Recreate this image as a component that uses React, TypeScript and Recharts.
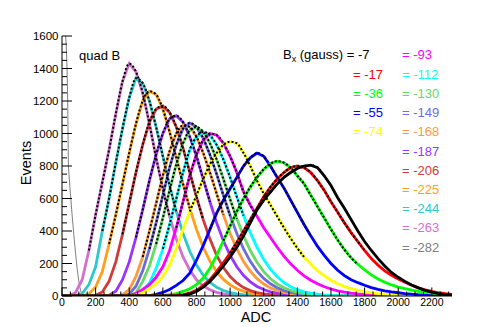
import { LineChart, Line, XAxis, YAxis } from 'recharts';

const FONT = '"Liberation Sans", Arial, Helvetica, sans-serif';

// ADC bin centres shared by all histograms
const bins = [
  0, 40, 80, 120, 160, 200, 240, 280, 320, 360, 400, 440, 480, 520, 560, 600, 640, 680, 720, 760,
  800, 840, 880, 920, 960, 1000, 1040, 1080, 1120, 1160, 1200, 1240, 1280, 1320, 1360, 1400, 1440,
  1480, 1520, 1560, 1600, 1640, 1680, 1720, 1760, 1800, 1840, 1880, 1920, 1960, 2000, 2040, 2080,
  2120, 2160, 2200, 2240, 2280, 2320,
];

// counts per bin (missing trailing bins are empty)
const bx7 = [
  0, 0, 0, 0, 0, 0, 0, 0, 0, 0,
  0, 0, 0, 0, 0, 0, 0, 0, 4, 12,
  28, 55, 90, 135, 185, 240, 300, 370, 450, 530,
  590, 640, 690, 730, 760, 785, 800, 805, 790, 740,
  680, 605, 540, 470, 400, 335, 280, 230, 185, 145,
  115, 90, 68, 50, 35, 24, 15, 9, 5,
];
const bx17 = [
  0, 0, 0, 0, 0, 0, 0, 0, 0, 0,
  0, 0, 0, 0, 0, 0, 0, 3, 8, 18,
  35, 65, 100, 150, 205, 265, 330, 400, 470, 540,
  610, 670, 720, 760, 790, 800, 790, 760, 710, 650,
  580, 515, 450, 390, 335, 280, 230, 190, 155, 128,
  105, 85, 66, 50, 38, 28, 20, 14, 10,
];
const bx36 = [
  0, 0, 0, 0, 0, 0, 0, 0, 0, 0,
  0, 0, 0, 0, 0, 3, 8, 15, 28, 45,
  70, 110, 170, 250, 340, 430, 520, 600, 670, 730,
  780, 815, 830, 820, 790, 740, 690, 620, 550, 480,
  410, 345, 285, 235, 195, 160, 130, 105, 85, 68,
  55, 45, 36, 29, 23, 18, 14, 11, 8,
];
const bx55 = [
  0, 0, 0, 0, 0, 0, 0, 0, 0, 0,
  0, 0, 0, 3, 10, 22, 40, 65, 95, 140,
  220, 310, 410, 510, 590, 660, 730, 800, 850, 880,
  860, 800, 730, 665, 590, 515, 440, 370, 305, 250,
  200, 158, 125, 100, 82, 66, 52, 41, 32, 25,
  20, 15, 11, 8, 6, 4, 3, 2, 1,
];
const bx74 = [
  0, 0, 0, 0, 0, 0, 0, 0, 0, 0,
  0, 5, 20, 45, 75, 120, 190, 290, 410, 520,
  620, 720, 810, 880, 930, 950, 940, 880, 800, 710,
  630, 560, 490, 420, 355, 295, 240, 195, 155, 125,
  97, 75, 58, 45, 35, 27, 20, 15, 11, 8,
  6, 4, 3, 2, 1,
];
const bx93 = [
  0, 0, 0, 0, 0, 0, 0, 0, 0, 0,
  5, 15, 40, 70, 115, 180, 280, 420, 580, 740,
  870, 960, 1000, 990, 940, 860, 760, 640, 560, 490,
  420, 360, 300, 245, 198, 158, 124, 97, 75, 57,
  43, 32, 24, 18, 13, 9, 6, 4, 2, 1,
];
const bx112 = [
  0, 0, 0, 0, 0, 0, 0, 0, 0, 0,
  0, 4, 30, 80, 170, 290, 440, 600, 760, 900,
  980, 1010, 990, 930, 840, 730, 610, 495, 390, 300,
  225, 165, 118, 83, 57, 39, 26, 17, 11, 7,
  4, 2, 1,
];
const bx130 = [
  0, 0, 0, 0, 0, 0, 0, 0, 0, 0,
  0, 20, 90, 185, 320, 480, 650, 810, 940, 1020,
  1040, 1010, 940, 840, 720, 595, 475, 370, 280, 207,
  150, 106, 74, 51, 34, 23, 15, 10, 6, 4,
  2, 1,
];
const bx149 = [
  0, 0, 0, 0, 0, 0, 0, 0, 0, 0,
  12, 60, 155, 290, 450, 620, 790, 930, 1030, 1065,
  1040, 970, 870, 750, 620, 495, 385, 290, 213, 153,
  108, 75, 51, 34, 22, 14, 9, 6, 4, 2,
  1,
];
const bx168 = [
  0, 0, 0, 0, 0, 0, 0, 0, 0, 8,
  40, 120, 240, 400, 570, 740, 890, 1000, 1050, 1040,
  980, 880, 760, 630, 500, 385, 290, 212, 152, 107,
  74, 50, 34, 22, 14, 9, 6, 4, 2, 1,
];
const bx187 = [
  0, 0, 0, 0, 0, 0, 0, 5, 30, 100,
  210, 360, 530, 710, 870, 1000, 1090, 1110, 1070, 980,
  860, 720, 580, 450, 340, 250, 180, 126, 87, 59,
  40, 26, 17, 11, 7, 4, 2, 1,
];
const bx206 = [
  0, 0, 0, 0, 0, 4, 25, 90, 210, 380,
  570, 760, 930, 1070, 1150, 1170, 1130, 1040, 910, 760,
  610, 470, 350, 250, 175, 120, 80, 52, 33, 21,
  13, 8, 5, 3, 2, 1,
];
const bx225 = [
  0, 0, 0, 2, 12, 55, 150, 320, 500, 690,
  880, 1060, 1200, 1260, 1240, 1150, 1010, 850, 690, 540,
  410, 300, 215, 150, 102, 68, 45, 29, 18, 11,
  7, 4, 2, 1,
];
const bx244 = [
  0, 0, 3, 15, 70, 180, 400, 600, 820, 1030,
  1220, 1340, 1310, 1200, 1040, 860, 680, 520, 385, 275,
  190, 128, 84, 54, 34, 21, 13, 8, 5, 3,
  2, 1,
];
const bx263 = [
  0, 2, 20, 100, 280, 500, 700, 900, 1120, 1320,
  1430, 1380, 1250, 1060, 850, 660, 490, 350, 240, 160,
  100, 62, 38, 22, 13, 7, 4, 2, 1,
];

// -282 gauss: pedestal only, finer bins
const grayAdc = [0, 15, 25, 30, 34, 38, 50, 60, 70, 80, 90, 100, 107, 115, 130, 150, 2320];
const grayCounts = [1800, 1700, 1550, 1400, 1200, 800, 630, 500, 380, 270, 170, 90, 50, 20, 5, 0, 0];

const fieldLabels = ['-7', '-17', '-36', '-55', '-74', '-93', '-112', '-130', '-149', '-168', '-187', '-206', '-225', '-244', '-263', '-282'];
const seriesCounts = [bx7, bx17, bx36, bx55, bx74, bx93, bx112, bx130, bx149, bx168, bx187, bx206, bx225, bx244, bx263];
const colors = ['#000000', '#ff0000', '#00ff00', '#0000ff', '#ffff00', '#ff00ff', '#00ffff', '#66d966', '#6b6bdb', '#ff9a3c', '#9933ff', '#d03a3a', '#ff9f1a', '#2ec8c8', '#d070d0', '#808080'];

// fit ranges (ADC) for the dotted gaussian fits
const fitFrom = [860, 1000, 940, 880, 740, 680, 600, 560, 520, 480, 440, 360, 280, 240, 160];
const fitTo = [1600, 1800, 1760, 1480, 1440, 1160, 1080, 1040, 1000, 960, 880, 840, 760, 680, 640];

const xLabels = [0, 200, 400, 600, 800, 1000, 1200, 1400, 1600, 1800, 2000, 2200];
const yLabels = [0, 200, 400, 600, 800, 1000, 1200, 1400, 1600];
const xTicks: number[] = [];
for (let v = 0; v <= 2300; v += 50) xTicks.push(v);
const yTicks: number[] = [];
for (let v = 0; v <= 1600; v += 50) yTicks.push(v);

const PLOT = { left: 62, right: 452, top: 36, bottom: 296 };

const keyOf = (k: number) => 'b' + k;

const table = bins.map((adc, i) => {
  const row: Record<string, number> = { adc };
  seriesCounts.forEach((c, k) => {
    row[keyOf(k)] = c[i] ?? 0;
  });
  return row;
});
const grayData = grayAdc.map((adc, i) => ({ adc, g: grayCounts[i] }));

const BottomTick = (props: any) => {
  const { x, payload } = props;
  const major = xLabels.includes(payload.value);
  return (
    <g>
      <line x1={x} x2={x} y1={PLOT.bottom} y2={PLOT.bottom - (major ? 8.5 : 4.5)} stroke="#000" />
      {major && (
        <text x={x} y={PLOT.bottom + 10} textAnchor="middle" fontSize={10.5} fontFamily={FONT} fill="#000">
          {payload.value}
        </text>
      )}
    </g>
  );
};

const TopTick = (props: any) => {
  const { x, payload } = props;
  const major = xLabels.includes(payload.value);
  return <line x1={x} x2={x} y1={PLOT.top} y2={PLOT.top + (major ? 8.5 : 4.5)} stroke="#000" />;
};

const LeftTick = (props: any) => {
  const { y, payload } = props;
  const major = yLabels.includes(payload.value);
  return (
    <g>
      <line x1={PLOT.left} x2={PLOT.left + (major ? 10 : 5)} y1={y} y2={y} stroke="#000" />
      {major && (
        <text x={PLOT.left - 3.5} y={y + 4} textAnchor="end" fontSize={11.5} fontFamily={FONT} fill="#000">
          {payload.value}
        </text>
      )}
    </g>
  );
};

const RightTick = (props: any) => {
  const { y, payload } = props;
  const major = yLabels.includes(payload.value);
  return <line x1={PLOT.right} x2={PLOT.right - (major ? 10 : 5)} y1={y} y2={y} stroke="#000" />;
};

const drawOrder = seriesCounts.map((_, k) => k).reverse();

const App = () => (
  <div style={{ position: 'absolute', left: 0, top: 0, width: 480, height: 327, background: '#fff', fontFamily: FONT }}>
    <LineChart width={480} height={327} data={table} margin={{ top: 36, right: 28, bottom: 6, left: 0 }}>
      <XAxis xAxisId="b" type="number" dataKey="adc" domain={[0, 2320]} ticks={xTicks} interval={0}
        height={25} tickLine={false} axisLine={{ stroke: '#000' }} tick={<BottomTick />} allowDataOverflow />
      <XAxis xAxisId="t" orientation="top" type="number" dataKey="adc" domain={[0, 2320]} ticks={xTicks}
        interval={0} height={0} tickLine={false} axisLine={{ stroke: '#000' }} tick={<TopTick />} allowDataOverflow />
      <YAxis yAxisId="l" type="number" domain={[0, 1600]} ticks={yTicks} interval={0} width={62}
        tickLine={false} axisLine={{ stroke: '#000' }} tick={<LeftTick />} allowDataOverflow />
      <YAxis yAxisId="r" orientation="right" type="number" domain={[0, 1600]} ticks={yTicks} interval={0}
        width={0} tickLine={false} axisLine={{ stroke: '#000' }} tick={<RightTick />} allowDataOverflow />
      <Line xAxisId="b" yAxisId="l" data={grayData} dataKey="g" type="linear" stroke={colors[15]}
        strokeWidth={1} dot={false} activeDot={false} isAnimationActive={false} />
      {drawOrder.map((k) => (
        <Line key={keyOf(k)} xAxisId="b" yAxisId="l" dataKey={keyOf(k)} type="linear" stroke={colors[k]}
          strokeWidth={2.8} dot={false} activeDot={false} isAnimationActive={false} />
      ))}
      {drawOrder.map((k) => (
        <Line key={'fit' + k} xAxisId="b" yAxisId="l" dataKey={keyOf(k)} type="monotone"
          data={table.filter((r) => r.adc >= fitFrom[k] && r.adc <= fitTo[k])}
          stroke="#000" strokeWidth={2} strokeDasharray="2 2" dot={false} activeDot={false} isAnimationActive={false} />
      ))}
    </LineChart>
    <svg width={480} height={327} style={{ position: 'absolute', left: 0, top: 0, pointerEvents: 'none' }}>
      <text x={79} y={59.5} fontSize={13} fontFamily={FONT} fill="#000">quad B</text>
      <text x={283} y={58.5} fontSize={13} fontFamily={FONT} fill="#000">
        B<tspan fontSize={9} dy={3}>x</tspan><tspan dy={-3}> (gauss) = {fieldLabels[0]}</tspan>
      </text>
      {fieldLabels.slice(1, 5).map((lab, i) => (
        <text key={lab} x={353} y={59.3 + 19.24 * (i + 1)} fontSize={13} fontFamily={FONT} fill={colors[i + 1]}>
          = {lab}
        </text>
      ))}
      {fieldLabels.slice(5).map((lab, i) => (
        <text key={lab} x={402} y={59.3 + 19.24 * i} fontSize={13} fontFamily={FONT} fill={colors[i + 5]}>
          = {lab}
        </text>
      ))}
      <text x={31} y={163} transform="rotate(-90 31 163)" textAnchor="middle" fontSize={14.5} fontFamily={FONT} fill="#000">
        Events
      </text>
      <text x={256} y={321.5} textAnchor="middle" fontSize={14.5} fontFamily={FONT} fill="#000">ADC</text>
    </svg>
  </div>
);

export default App;
